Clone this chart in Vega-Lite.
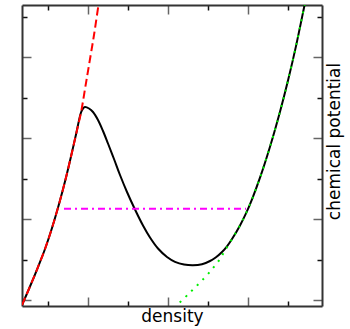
{
  "$schema": "https://vega.github.io/schema/vega-lite/v6.json",
  "width": 300,
  "height": 301,
  "autosize": {"type": "none"},
  "padding": {"left": 22, "top": 5, "right": 28, "bottom": 23},
  "background": "white",
  "config": {
    "view": {"stroke": null},
    "font": "DejaVu Sans",
    "axis": {
      "grid": false,
      "labels": false,
      "domainColor": "#333333",
      "domainWidth": 2,
      "titleFont": "DejaVu Sans",
      "titleFontSize": 17,
      "titleFontWeight": "normal",
      "titleColor": "black"
    }
  },
  "datasets": {
    "black": [
      {"density": 0.35, "mu": -0.1235}, {"density": 0.55, "mu": 0.3333}, {"density": 0.75, "mu": 0.8148},
      {"density": 0.925, "mu": 1.2593}, {"density": 1.10, "mu": 1.7778}, {"density": 1.30, "mu": 2.4568},
      {"density": 1.45, "mu": 3.0247}, {"density": 1.575, "mu": 3.5432}, {"density": 1.70, "mu": 4.0864},
      {"density": 1.825, "mu": 4.6296}, {"density": 1.875, "mu": 4.7284}, {"density": 1.925, "mu": 4.7654},
      {"density": 2.025, "mu": 4.7284}, {"density": 2.125, "mu": 4.6420}, {"density": 2.25, "mu": 4.4444},
      {"density": 2.375, "mu": 4.1728}, {"density": 2.50, "mu": 3.8642}, {"density": 2.65, "mu": 3.4815},
      {"density": 2.80, "mu": 3.0864}, {"density": 2.975, "mu": 2.6667}, {"density": 3.175, "mu": 2.2346},
      {"density": 3.375, "mu": 1.8395}, {"density": 3.55, "mu": 1.5432}, {"density": 3.75, "mu": 1.2716},
      {"density": 3.975, "mu": 1.0617}, {"density": 4.175, "mu": 0.9432}, {"density": 4.40, "mu": 0.8765},
      {"density": 4.625, "mu": 0.8568}, {"density": 4.85, "mu": 0.8840}, {"density": 5.05, "mu": 0.9630},
      {"density": 5.20, "mu": 1.0568}, {"density": 5.35, "mu": 1.1852}, {"density": 5.475, "mu": 1.3259},
      {"density": 5.60, "mu": 1.5062}, {"density": 5.80, "mu": 1.8420},
      {"density": 5.95, "mu": 2.1383}, {"density": 6.10, "mu": 2.4864}, {"density": 6.30, "mu": 3.0198},
      {"density": 6.55, "mu": 3.7852}, {"density": 6.80, "mu": 4.6494}, {"density": 7.00, "mu": 5.4198},
      {"density": 7.20, "mu": 6.2691}, {"density": 7.40, "mu": 7.2173}, {"density": 7.50, "mu": 7.7037}
    ],
    "red": [
      {"density": 0.35, "mu": -0.1235}, {"density": 0.55, "mu": 0.3333}, {"density": 0.75, "mu": 0.8148},
      {"density": 0.925, "mu": 1.2593}, {"density": 1.10, "mu": 1.7778}, {"density": 1.30, "mu": 2.4568},
      {"density": 1.45, "mu": 3.0247}, {"density": 1.575, "mu": 3.5432}, {"density": 1.70, "mu": 4.0864},
      {"density": 1.825, "mu": 4.6296}, {"density": 1.925, "mu": 5.2099}, {"density": 2.025, "mu": 5.8025},
      {"density": 2.15, "mu": 6.5432}, {"density": 2.2625, "mu": 7.2840}, {"density": 2.30, "mu": 7.5062}
    ],
    "green": [
      {"density": 4.15, "mu": -0.1975}, {"density": 4.55, "mu": 0.1852}, {"density": 4.90, "mu": 0.5358},
      {"density": 5.125, "mu": 0.7901}, {"density": 5.275, "mu": 0.9802}, {"density": 5.425, "mu": 1.2222},
      {"density": 5.60, "mu": 1.5062}, {"density": 5.80, "mu": 1.8420}, {"density": 5.95, "mu": 2.1383},
      {"density": 6.10, "mu": 2.4864}, {"density": 6.30, "mu": 3.0198}, {"density": 6.55, "mu": 3.7852},
      {"density": 6.80, "mu": 4.6494}, {"density": 7.00, "mu": 5.4198}, {"density": 7.20, "mu": 6.2691},
      {"density": 7.40, "mu": 7.2173}, {"density": 7.50, "mu": 7.7037}
    ],
    "magenta": [
      {"density": 1.40, "mu": 2.254}, {"density": 5.95, "mu": 2.254}
    ]
  },
  "layer": [
    {
      "data": {"name": "black"},
      "mark": {"type": "line", "color": "black", "strokeWidth": 2, "interpolate": "catmull-rom", "clip": true},
      "encoding": {
        "x": {"field": "density", "type": "quantitative", "scale": {"domain": [0.35, 7.85], "nice": false, "zero": false},
          "axis": {"orient": "bottom", "values": [1, 2, 3, 4, 5, 6, 7], "title": "density", "titlePadding": 2,
            "tickSize": {"condition": {"test": "datum.value % 2 === 0", "value": -9}, "value": -5},
            "tickColor": {"condition": {"test": "datum.value % 2 === 0", "value": "#666666"}, "value": "#111111"},
            "tickWidth": 1.5}},
        "y": {"field": "mu", "type": "quantitative", "scale": {"domain": [-0.148, 7.284], "nice": false, "zero": false},
          "axis": {"orient": "left", "values": [0, 1, 2, 3, 4, 5, 6, 7], "title": null,
            "tickSize": {"condition": {"test": "datum.value % 2 === 0", "value": -9}, "value": -5},
            "tickColor": {"condition": {"test": "datum.value % 2 === 0", "value": "#666666"}, "value": "#111111"},
            "tickWidth": 1.5}}
      }
    },
    {
      "data": {"name": "red"},
      "mark": {"type": "line", "color": "#ff0000", "strokeWidth": 2, "strokeDash": [8, 4], "interpolate": "catmull-rom", "clip": true},
      "encoding": {
        "x": {"field": "density", "type": "quantitative",
          "axis": {"orient": "top", "values": [1, 2, 3, 4, 5, 6, 7], "title": null,
            "tickSize": {"condition": {"test": "datum.value % 2 === 0", "value": -9}, "value": -5},
            "tickColor": {"condition": {"test": "datum.value % 2 === 0", "value": "#666666"}, "value": "#111111"},
            "tickWidth": 1.5}},
        "y": {"field": "mu", "type": "quantitative",
          "axis": {"orient": "right", "values": [0, 1, 2, 3, 4, 5, 6, 7], "title": "chemical potential",
            "titleAngle": 270, "titleBaseline": "top", "titlePadding": 4, "titleY": 136,
            "tickSize": {"condition": {"test": "datum.value % 2 === 0", "value": -9}, "value": -5},
            "tickColor": {"condition": {"test": "datum.value % 2 === 0", "value": "#666666"}, "value": "#111111"},
            "tickWidth": 1.5}}
      }
    },
    {
      "data": {"name": "green"},
      "mark": {"type": "line", "color": "#00ee00", "strokeWidth": 2, "strokeDash": [2, 6], "interpolate": "catmull-rom", "clip": true},
      "encoding": {
        "x": {"field": "density", "type": "quantitative", "axis": null},
        "y": {"field": "mu", "type": "quantitative", "axis": null}
      }
    },
    {
      "data": {"name": "magenta"},
      "mark": {"type": "line", "color": "#ff00ff", "strokeWidth": 2, "strokeDash": [7, 4, 2, 4], "clip": true},
      "encoding": {
        "x": {"field": "density", "type": "quantitative", "axis": null},
        "y": {"field": "mu", "type": "quantitative", "axis": null}
      }
    }
  ],
  "resolve": {"axis": {"x": "independent", "y": "independent"}}
}
